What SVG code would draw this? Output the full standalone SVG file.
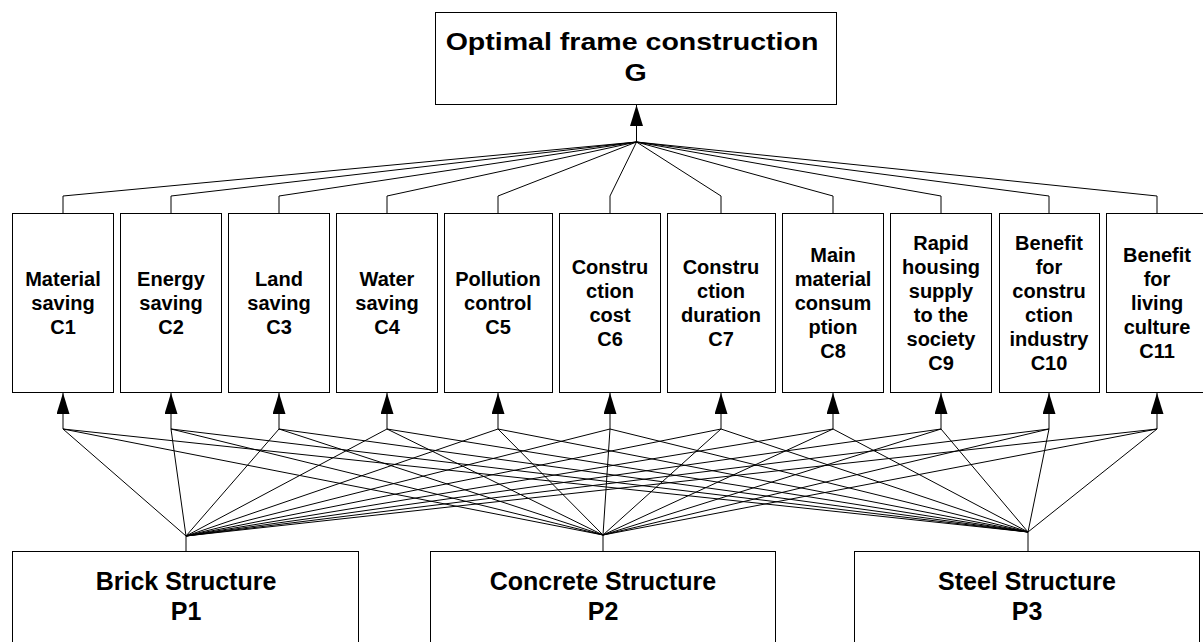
<svg xmlns="http://www.w3.org/2000/svg" width="1203" height="642" viewBox="0 0 1203 642">
<style>
.box{fill:#fff;stroke:#000;stroke-width:1}
.t{font-family:"Liberation Sans",Arial,sans-serif;font-weight:bold;fill:#000;text-anchor:middle}
.c{font-size:20px}
.big{font-size:25px}
.ttl{font-size:24px}
.ln{fill:none;stroke:#000;stroke-width:1}
</style>
<defs>
<marker id="ah" markerUnits="userSpaceOnUse" markerWidth="21" markerHeight="13" viewBox="0 0 21 13" refX="21" refY="6.5" orient="auto">
<path d="M21 6.5 L0 0 L0 13 Z" fill="#000"/>
</marker>
</defs>
<g id="G">
<rect class="box" x="435.5" y="12.5" width="401" height="92"/>
<g transform="translate(632,0) scale(1.19,1)">
<text class="t ttl" x="0" y="50">Optimal frame construction</text>
<text class="t ttl" x="3" y="81">G</text>
</g>
</g>
<g id="C1"><rect class="box" x="12.5" y="213.5" width="101" height="179"/><text class="t c" x="63" y="286">Material</text><text class="t c" x="63" y="310">saving</text><text class="t c" x="63" y="334">C1</text></g>
<g id="C2"><rect class="box" x="120.5" y="213.5" width="101" height="179"/><text class="t c" x="171" y="286">Energy</text><text class="t c" x="171" y="310">saving</text><text class="t c" x="171" y="334">C2</text></g>
<g id="C3"><rect class="box" x="228.5" y="213.5" width="101" height="179"/><text class="t c" x="279" y="286">Land</text><text class="t c" x="279" y="310">saving</text><text class="t c" x="279" y="334">C3</text></g>
<g id="C4"><rect class="box" x="336.5" y="213.5" width="101" height="179"/><text class="t c" x="387" y="286">Water</text><text class="t c" x="387" y="310">saving</text><text class="t c" x="387" y="334">C4</text></g>
<g id="C5"><rect class="box" x="444.5" y="213.5" width="108" height="179"/><text class="t c" x="498" y="286">Pollution</text><text class="t c" x="498" y="310">control</text><text class="t c" x="498" y="334">C5</text></g>
<g id="C6"><rect class="box" x="559.5" y="213.5" width="101" height="179"/><text class="t c" x="610" y="274">Constru</text><text class="t c" x="610" y="298">ction</text><text class="t c" x="610" y="322">cost</text><text class="t c" x="610" y="346">C6</text></g>
<g id="C7"><rect class="box" x="667.5" y="213.5" width="108" height="179"/><text class="t c" x="721" y="274">Constru</text><text class="t c" x="721" y="298">ction</text><text class="t c" x="721" y="322">duration</text><text class="t c" x="721" y="346">C7</text></g>
<g id="C8"><rect class="box" x="782.5" y="213.5" width="101" height="179"/><text class="t c" x="833" y="262">Main</text><text class="t c" x="833" y="286">material</text><text class="t c" x="833" y="310">consum</text><text class="t c" x="833" y="334">ption</text><text class="t c" x="833" y="358">C8</text></g>
<g id="C9"><rect class="box" x="890.5" y="213.5" width="101" height="179"/><text class="t c" x="941" y="250">Rapid</text><text class="t c" x="941" y="274">housing</text><text class="t c" x="941" y="298">supply</text><text class="t c" x="941" y="322">to the</text><text class="t c" x="941" y="346">society</text><text class="t c" x="941" y="370">C9</text></g>
<g id="C10"><rect class="box" x="999.5" y="213.5" width="100" height="179"/><text class="t c" x="1049" y="250">Benefit</text><text class="t c" x="1049" y="274">for</text><text class="t c" x="1049" y="298">constru</text><text class="t c" x="1049" y="322">ction</text><text class="t c" x="1049" y="346">industry</text><text class="t c" x="1049" y="370">C10</text></g>
<g id="C11"><rect class="box" x="1106.5" y="213.5" width="100" height="179"/><text class="t c" x="1157" y="262">Benefit</text><text class="t c" x="1157" y="286">for</text><text class="t c" x="1157" y="310">living</text><text class="t c" x="1157" y="334">culture</text><text class="t c" x="1157" y="358">C11</text></g>
<g id="P1"><rect class="box" x="12.5" y="551.5" width="346" height="120"/><text class="t big" x="186" y="590">Brick Structure</text><text class="t big" x="186" y="620">P1</text></g>
<g id="P2"><rect class="box" x="430.5" y="551.5" width="345" height="120"/><text class="t big" x="603" y="590">Concrete Structure</text><text class="t big" x="603" y="620">P2</text></g>
<g id="P3"><rect class="box" x="854.5" y="551.5" width="345" height="120"/><text class="t big" x="1027" y="590">Steel Structure</text><text class="t big" x="1027" y="620">P3</text></g>
<g id="connectors" class="ln">
<path class="ln" d="M636.5 142 L636.5 105" marker-end="url(#ah)"/>
<path class="ln" d="M63 213V196L636.5 142M171 213V196L636.5 142M279 213V196L636.5 142M387 213V196L636.5 142M498 213V196L636.5 142M610 213V196L636.5 142M721 213V196L636.5 142M833 213V196L636.5 142M941 213V196L636.5 142M1049 213V196L636.5 142M1157 213V196L636.5 142"/>
<path class="ln" d="M63 429V393" marker-end="url(#ah)"/>
<path class="ln" d="M171 429V393" marker-end="url(#ah)"/>
<path class="ln" d="M279 429V393" marker-end="url(#ah)"/>
<path class="ln" d="M387 429V393" marker-end="url(#ah)"/>
<path class="ln" d="M498 429V393" marker-end="url(#ah)"/>
<path class="ln" d="M610 429V393" marker-end="url(#ah)"/>
<path class="ln" d="M721 429V393" marker-end="url(#ah)"/>
<path class="ln" d="M833 429V393" marker-end="url(#ah)"/>
<path class="ln" d="M941 429V393" marker-end="url(#ah)"/>
<path class="ln" d="M1049 429V393" marker-end="url(#ah)"/>
<path class="ln" d="M1157 429V393" marker-end="url(#ah)"/>
<path class="ln" d="M186 551V536M603 551V535M1028 551V532"/>
<path class="ln" d="M186 536L63 429M186 536L171 429M186 536L279 429M186 536L387 429M186 536L498 429M186 536L610 429M186 536L721 429M186 536L833 429M186 536L941 429M186 536L1049 429M186 536L1157 429"/>
<path class="ln" d="M603 535L63 429M603 535L171 429M603 535L279 429M603 535L387 429M603 535L498 429M603 535L610 429M603 535L721 429M603 535L833 429M603 535L941 429M603 535L1049 429M603 535L1157 429"/>
<path class="ln" d="M1028 532L63 429M1028 532L171 429M1028 532L279 429M1028 532L387 429M1028 532L498 429M1028 532L610 429M1028 532L721 429M1028 532L833 429M1028 532L941 429M1028 532L1049 429M1028 532L1157 429"/>
</g>
</svg>
